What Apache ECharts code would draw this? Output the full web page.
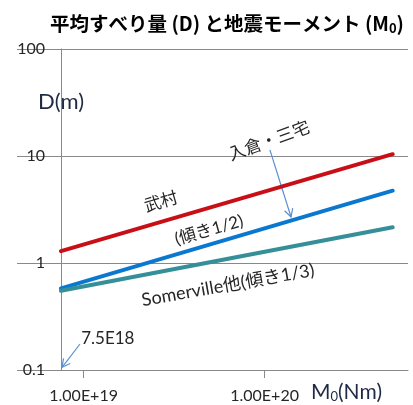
<!DOCTYPE html>
<html>
<head>
<meta charset="utf-8">
<script src="https://cdn.jsdelivr.net/npm/echarts@6/dist/echarts.min.js"></script>
<style>
  html, body { margin: 0; padding: 0; background: #fff; }
  #chart { width: 413px; height: 405px; }
</style>
</head>
<body>
<div id="chart"></div>
<script>
// Seismic moment range (Nm) spanned by each scaling relation
const momentRange = [7.5e18, 5.1e20];
// Average slip D (m) at both ends of the moment range
const takemura = [1.29, 10.4];
const irikuraMiyake = [0.58, 4.74];
const somerville = [0.55, 2.16];

const xTickValues = [1e19, 1e20];
const xTickLabels = ['1.00E+19', '1.00E+20'];

// Text annotations anchored in data space: [M0, D]
const noteTexts = ['武村', '入倉・三宅', '(傾き1/2)', 'Somerville他(傾き1/3)', '7.5E18'];
const noteAnchors = [[2.68e19, 3.72], [1.06e20, 13.8], [4.93e19, 2.03], [6.28e19, 0.62], [1.36e19, 0.195]];
const noteAngles = [16, 20, 16, 10, 0];
const noteSizes = [17, 17, 17, 18, 17];

// Pointer arrows: start and tip in data space
const arrowStarts = [[1.07e20, 11.4], [9.55e18, 0.175]];
const arrowTips = [[1.40e20, 2.69], [7.6e18, 0.106]];

const LATIN = "Lato, 'Noto Sans CJK JP', sans-serif";
const CJK = "'Noto Sans CJK JP', sans-serif";
const GRID = '#898989';
const TEXT = '#262626';

function pairs(ys) {
  return momentRange.map((x, i) => [x, ys[i]]);
}

function lineSeries(name, ys, color) {
  return {
    name, type: 'line', data: pairs(ys),
    showSymbol: false, silent: true,
    lineStyle: { color, width: 4, cap: 'round' }
  };
}

const chart = echarts.init(document.getElementById('chart'), null, { renderer: 'canvas' });

chart.setOption({
  animation: false,
  backgroundColor: '#fff',
  grid: { left: 61, right: 5, top: 49, bottom: 35, containLabel: false },
  xAxis: {
    type: 'log', logBase: 10,
    min: 7.5e18, max: 6.2e20,
    name: '{m|M}{s|0}{m|(Nm)}',
    nameLocation: 'end', nameGap: -26,
    nameTextStyle: {
      align: 'right', verticalAlign: 'top', padding: [12, 0, 0, 0],
      rich: {
        m: { fontFamily: LATIN, fontSize: 21, color: '#1f2a44' },
        s: { fontFamily: LATIN, fontSize: 13, color: '#1f2a44', padding: [8, 0, 0, 0] }
      }
    },
    axisLine: { show: true, lineStyle: { color: GRID, width: 1 } },
    axisTick: { show: true, customValues: xTickValues, length: 8, lineStyle: { color: GRID } },
    axisLabel: {
      customValues: xTickValues, margin: 18,
      fontFamily: LATIN, fontSize: 16, color: TEXT,
      formatter: v => xTickLabels[xTickValues.findIndex(t => Math.abs(Math.log10(t) - Math.log10(v)) < 1e-6)] || ''
    },
    splitLine: { show: false }
  },
  yAxis: {
    type: 'log', logBase: 10,
    min: 0.1, max: 100,
    name: 'D(m)',
    nameLocation: 'end', nameGap: -64,
    nameTextStyle: { fontFamily: LATIN, fontSize: 22, color: '#1f2a44', align: 'center' },
    axisLine: { show: true, lineStyle: { color: GRID, width: 1 } },
    axisTick: { show: true, length: 44, lineStyle: { color: GRID } },
    axisLabel: {
      margin: 16, fontFamily: LATIN, fontSize: 16, color: TEXT,
      formatter: v => String(+v.toPrecision(3))
    },
    splitLine: { show: true, lineStyle: { color: GRID, width: 1 } }
  },
  series: [
    lineSeries('武村', takemura, '#c90f16'),
    lineSeries('入倉・三宅', irikuraMiyake, '#0b78d0'),
    lineSeries('Somerville他', somerville, '#358f99')
  ]
});

// Chart heading, annotations and arrows
const toPx = p => chart.convertToPixel({ gridIndex: 0 }, p);
const graphics = [{
  type: 'text', x: 50, y: 24, silent: true,
  style: {
    text: '平均すべり量 (D) と地震モーメント (M{s|0})',
    font: "bold 19.5px " + CJK, fill: '#000',
    align: 'left', verticalAlign: 'middle',
    rich: { s: { fontFamily: CJK, fontWeight: 'bold', fontSize: 13, fill: '#000', padding: [9, 0, 0, 0] } }
  }
}];

noteTexts.forEach((t, i) => {
  const [x, y] = toPx(noteAnchors[i]);
  graphics.push({
    type: 'text', x, y, rotation: noteAngles[i] * Math.PI / 180, silent: true,
    style: {
      text: t, fill: TEXT,
      font: noteSizes[i] + "px " + LATIN,
      align: 'center', verticalAlign: 'middle'
    }
  });
});

arrowStarts.forEach((s, i) => {
  const a = toPx(s), b = toPx(arrowTips[i]);
  const dx = b[0] - a[0], dy = b[1] - a[1];
  const len = Math.hypot(dx, dy), ux = dx / len, uy = dy / len;
  const head = 9, ang = 28 * Math.PI / 180;
  const arm = sgn => {
    const c = Math.cos(sgn * ang), s2 = Math.sin(sgn * ang);
    const rx = ux * c - uy * s2, ry = ux * s2 + uy * c;
    return [b[0] - head * rx, b[1] - head * ry];
  };
  const lineStyle = { stroke: '#5b8fd0', lineWidth: 1.2, fill: null };
  graphics.push({ type: 'polyline', silent: true, shape: { points: [a, b] }, style: lineStyle });
  graphics.push({ type: 'polyline', silent: true, shape: { points: [arm(1), b, arm(-1)] }, style: lineStyle });
});

chart.setOption({ graphic: graphics });
</script>
</body>
</html>
